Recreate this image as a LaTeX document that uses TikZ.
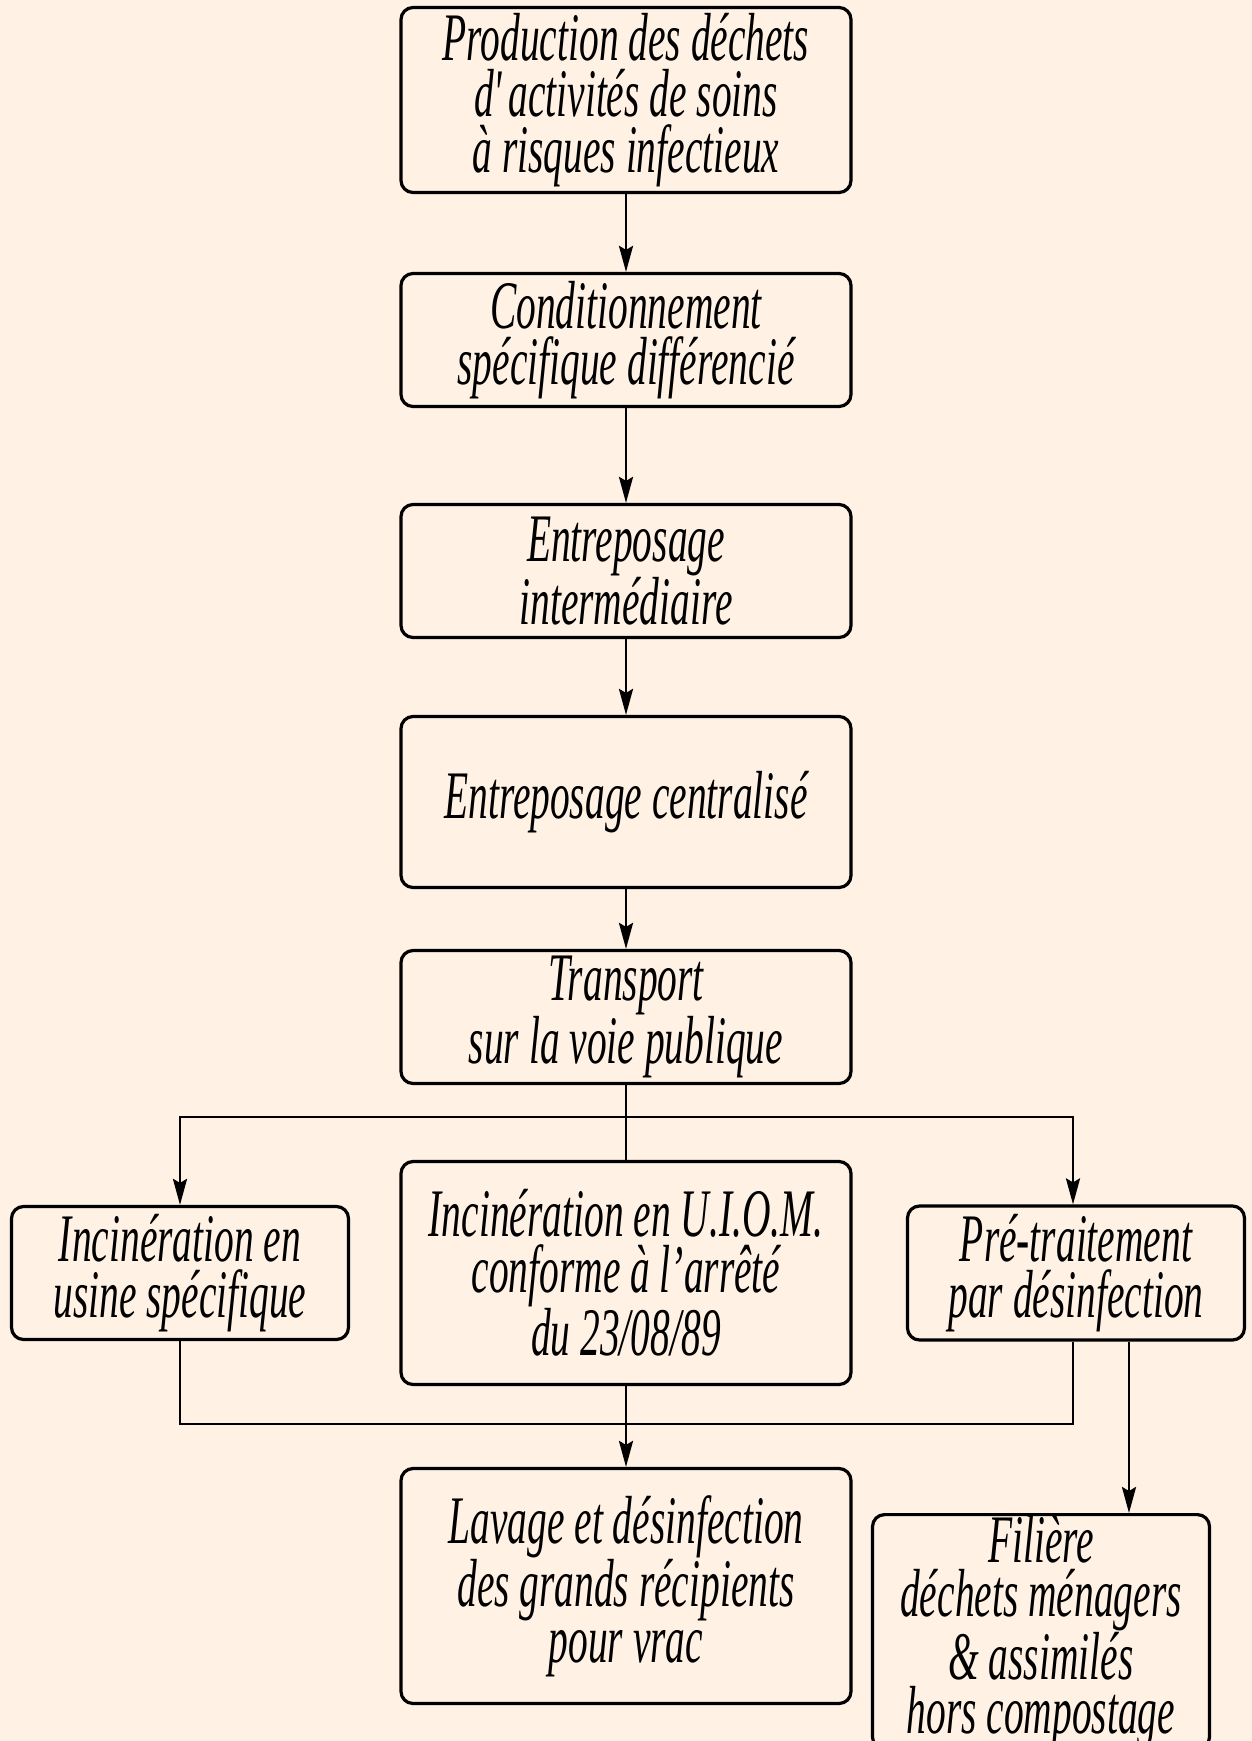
\documentclass[tikz,border=0pt]{standalone}
\usepackage{fontspec}
\newfontfamily\boxfont{Liberation Serif}[FakeStretch=0.58]
\usetikzlibrary{arrows.meta}
\usetikzlibrary{calc}
\definecolor{paper}{RGB}{255,241,227}
\tikzset{
  etape/.style={draw, line width=3.2pt, rounded corners=12pt, align=center, inner sep=0pt,
    font=\boxfont\itshape\fontsize{68}{56}\selectfont},
  fleche/.style={line width=2.8pt, -{Stealth[length=26pt,width=14pt,inset=4pt]}},
  trait/.style={line width=2.8pt}
}
\begin{document}
\begin{tikzpicture}[x=1pt,y=-1pt]
  % background
  \fill[paper] (0,0) rectangle (1252,1741);
  \clip (0,0) rectangle (1252,1741);
  % main column
  \node[etape, minimum width=450, minimum height=185] (prod) at (626,100) {Production des déchets\\d\textquotesingle activités de soins\\à risques infectieux};
  \node[etape, minimum width=450, minimum height=133] (cond) at (626,340) {Conditionnement\\spécifique différencié};
  \node[etape, minimum width=450, minimum height=133] (inter) at (626,571) {Entreposage\\intermédiaire};
  \node[etape, minimum width=450, minimum height=171] (centr) at (626,802) {Entreposage centralisé};
  \node[etape, minimum width=450, minimum height=133] (transp) at (626,1017) {Transport\\sur la voie publique};
  % treatments
  \node[etape, minimum width=337, minimum height=133] (usine) at (180,1273) {Incinération en\\usine spécifique};
  \node[etape, minimum width=450, minimum height=223] (uiom) at (626,1273) {Incinération en U.I.O.M.\\conforme à l’arrêté\\du 23/08/89};
  \node[etape, minimum width=337, minimum height=134] (pretr) at (1076,1273) {Pré-traitement\\par désinfection};
  % final steps
  \node[etape, minimum width=450, minimum height=235] (lavage) at (626,1586) {Lavage et désinfection\\des grands récipients\\pour vrac};
  \node[etape, minimum width=337, inner ysep=1pt, anchor=north, font=\boxfont\itshape\fontsize{68}{54}\selectfont] (filiere) at (1041,1513) {Filière\\déchets ménagers\\\& assimilés\\hors compostage};
  % column arrows
  \draw[fleche] (prod) -- (cond);
  \draw[fleche] (cond) -- (inter);
  \draw[fleche] (inter) -- (centr);
  \draw[fleche] (centr) -- (transp);
  % split below transport
  \coordinate (haut) at (626,1117);
  \draw[trait] (transp.south) -- (uiom.north);
  \draw[fleche] (haut) -| (usine.north);
  \draw[fleche] (haut) -| ($(pretr.north)+(-3,0)$);
  % join above lavage
  \coordinate (bas) at (626,1424);
  \draw[trait] (usine.south) |- (bas) -| ($(pretr.south)+(-3,0)$);
  \draw[fleche] (uiom.south) -- (lavage.north);
  \draw[fleche] ($(pretr.south)+(53,0)$) coordinate (f) -- (f |- filiere.north);
\end{tikzpicture}
\end{document}
